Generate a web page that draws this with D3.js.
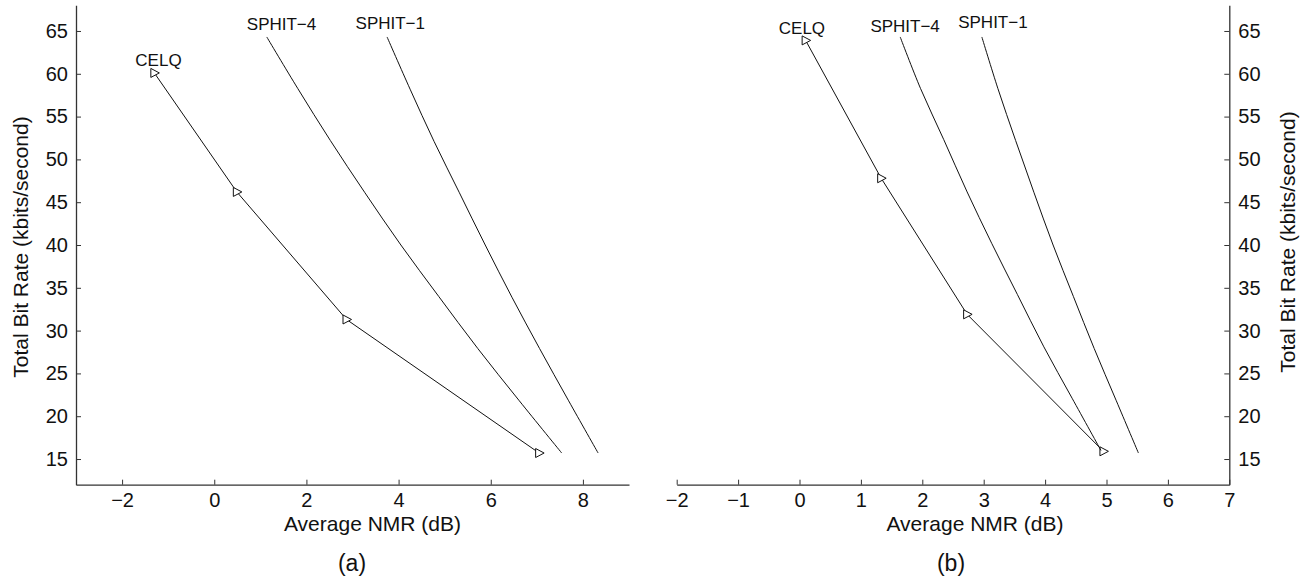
<!DOCTYPE html>
<html>
<head>
<meta charset="utf-8">
<script src="https://cdn.jsdelivr.net/npm/d3@7"></script>
<style>
  html, body { margin: 0; padding: 0; background: #fff; }
  svg { display: block; font-family: "Liberation Sans", Arial, Helvetica, sans-serif; }
</style>
</head>
<body>
<svg id="chart" width="1305" height="580"></svg>
<script>
// ---------- data ----------
const xTicksA = [-2, 0, 2, 4, 6, 8];
const xTicksB = [-2, -1, 0, 1, 2, 3, 4, 5, 6, 7];
const yTicks = [15, 20, 25, 30, 35, 40, 45, 50, 55, 60, 65];

// Panel (a)
const celqA_x = [-1.30, 0.49, 2.87, 7.05];
const celqA_y = [60.1, 46.2, 31.3, 15.7];
const sphit4A_x = [1.14, 1.81, 2.52, 3.27, 4.05, 4.87, 5.72, 6.62, 7.54];
const sphit4A_y = [64.3, 58.3, 52.2, 46.1, 40.0, 34.0, 27.9, 21.8, 15.7];
const sphit1A_x = [3.75, 4.25, 4.77, 5.32, 5.88, 6.46, 7.06, 7.69, 8.33];
const sphit1A_y = [64.3, 58.2, 52.1, 46.1, 40.0, 33.9, 27.9, 21.8, 15.7];

// Panel (b)
const celqB_x = [0.10, 1.33, 2.73, 4.95];
const celqB_y = [63.9, 47.8, 31.9, 15.9];
const sphit4B_x = [1.64, 1.97, 2.35, 2.73, 3.13, 3.55, 3.98, 4.44, 4.91];
const sphit4B_y = [64.3, 58.3, 52.3, 46.2, 40.2, 34.2, 28.1, 22.1, 16.0];
const sphit1B_x = [2.97, 3.23, 3.52, 3.82, 4.13, 4.46, 4.80, 5.16, 5.52];
const sphit1B_y = [64.3, 58.3, 52.2, 46.1, 40.0, 34.0, 27.9, 21.8, 15.7];

// Series labels (text, x, y in data units)
const labelsA = [
  { text: "CELQ", x: -1.21, y: 60.9 },
  { text: "SPHIT\u22124", x: 1.46, y: 65.1 },
  { text: "SPHIT\u22121", x: 3.82, y: 65.2 }
];
const labelsB = [
  { text: "CELQ", x: 0.04, y: 64.65 },
  { text: "SPHIT\u22124", x: 1.72, y: 64.9 },
  { text: "SPHIT\u22121", x: 3.15, y: 65.35 }
];

const xTitle = "Average NMR (dB)";
const yTitle = "Total Bit Rate (kbits/second)";

// ---------- drawing ----------
const svg = d3.select("#chart");
const ink = "#111";
const axisColor = "#333";

const y = d3.scaleLinear().domain([12, 68]).range([484.7, 5.3]);
const xA = d3.scaleLinear().domain([-3, 9]).range([76, 629]);
const xB = d3.scaleLinear().domain([-2, 7]).range([676.7, 1229.3]);

const fmt = d => (d < 0 ? "\u2212" + Math.abs(d) : String(d));
const zip = (xs, ys) => xs.map((v, i) => [v, ys[i]]);

function styleAxis(g) {
  g.selectAll("path.domain").attr("stroke", axisColor).attr("stroke-width", 1.3);
  g.selectAll(".tick line").attr("stroke", axisColor).attr("stroke-width", 1);
  g.selectAll(".tick text").attr("fill", ink).style("font-size", "20px")
    .style("font-family", '"Liberation Sans", Arial, sans-serif');
}

function panel(x, xTicks, yAxisSide, series, labels) {
  const g = svg.append("g");
  const gx = g.append("g").attr("transform", `translate(0,${y(12)})`)
    .call(d3.axisBottom(x).tickValues(xTicks).tickFormat(fmt).tickSizeInner(-5).tickSizeOuter(0).tickPadding(8));
  styleAxis(gx);
  if (yAxisSide === "left") {
    const gy = g.append("g").attr("transform", `translate(${x.range()[0]},0)`)
      .call(d3.axisLeft(y).tickValues(yTicks).tickFormat(fmt).tickSizeInner(-5).tickSizeOuter(0).tickPadding(8));
    styleAxis(gy);
  } else {
    const gy = g.append("g").attr("transform", `translate(${x.range()[1]},0)`)
      .call(d3.axisRight(y).tickValues(yTicks).tickFormat(fmt).tickSizeInner(-5).tickSizeOuter(0).tickPadding(9));
    styleAxis(gy);
  }

  series.forEach(s => {
    const line = d3.line().x(d => x(d[0])).y(d => y(d[1]))
      .curve(s.markers ? d3.curveLinear : d3.curveCatmullRom.alpha(0.5));
    g.append("path").datum(s.pts).attr("d", line)
      .attr("fill", "none").attr("stroke", ink).attr("stroke-width", 1);
    if (s.markers) {
      g.selectAll(null).data(s.pts).enter().append("path")
        .attr("transform", d => `translate(${x(d[0])},${y(d[1])})`)
        .attr("d", "M-3.5,-4.5L-3.5,4.5L5,0Z")
        .attr("fill", "#fff").attr("stroke", ink).attr("stroke-width", 1);
    }
  });

  g.selectAll(null).data(labels).enter().append("text")
    .attr("x", d => x(d.x)).attr("y", d => y(d.y))
    .attr("text-anchor", "middle").attr("fill", ink)
    .style("font-size", "17px")
    .text(d => d.text);
  return g;
}

panel(xA, xTicksA, "left", [
  { pts: zip(celqA_x, celqA_y), markers: true },
  { pts: zip(sphit4A_x, sphit4A_y) },
  { pts: zip(sphit1A_x, sphit1A_y) }
], labelsA);

panel(xB, xTicksB, "right", [
  { pts: zip(celqB_x, celqB_y), markers: true },
  { pts: zip(sphit4B_x, sphit4B_y) },
  { pts: zip(sphit1B_x, sphit1B_y) }
], labelsB);

// titles
const titleFont = "21px";
svg.append("text").attr("x", 372.5).attr("y", 531).attr("text-anchor", "middle")
  .attr("fill", ink).style("font-size", titleFont).text(xTitle);
svg.append("text").attr("x", 975).attr("y", 531).attr("text-anchor", "middle")
  .attr("fill", ink).style("font-size", titleFont).text(xTitle);

svg.append("text").attr("transform", "translate(27.5,247) rotate(-90)").attr("text-anchor", "middle")
  .attr("fill", ink).style("font-size", titleFont).text(yTitle);
svg.append("text").attr("transform", "translate(1294.5,242) rotate(-90)").attr("text-anchor", "middle")
  .attr("fill", ink).style("font-size", titleFont).text(yTitle);

// sub captions
svg.append("text").attr("x", 352).attr("y", 571).attr("text-anchor", "middle")
  .attr("fill", ink).style("font-size", "23px").text("(a)");
svg.append("text").attr("x", 951).attr("y", 571).attr("text-anchor", "middle")
  .attr("fill", ink).style("font-size", "23px").text("(b)");
</script>
</body>
</html>
